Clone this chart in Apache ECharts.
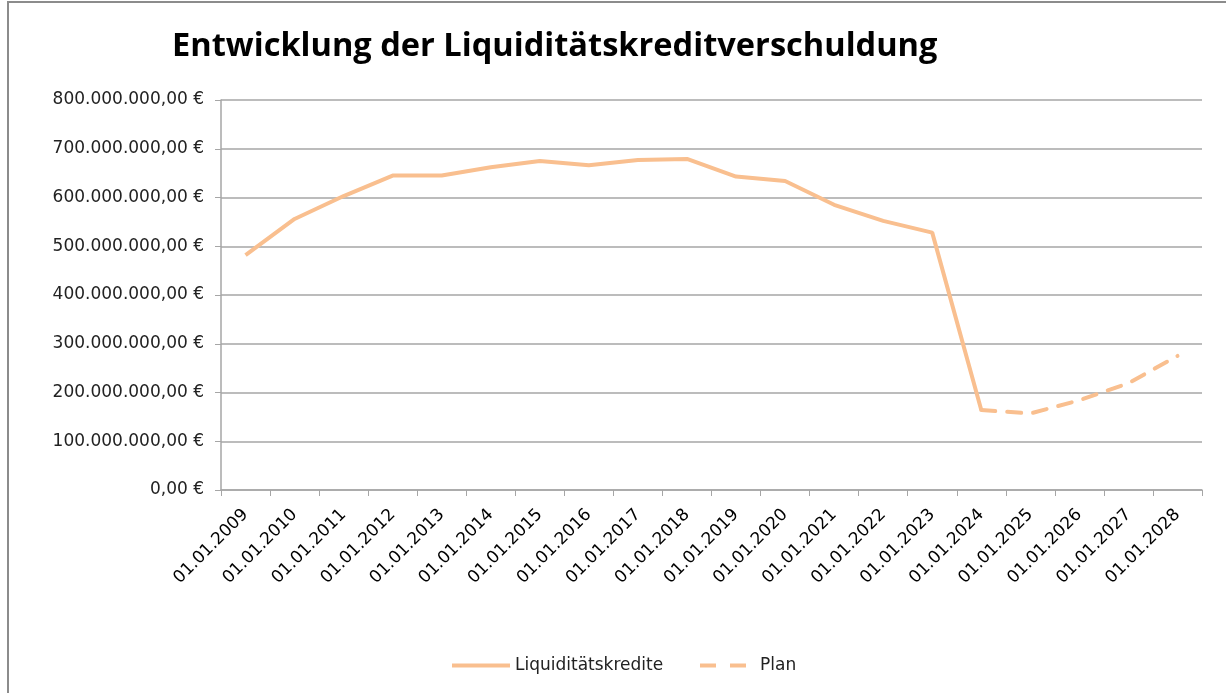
<!DOCTYPE html>
<html><head><meta charset="utf-8">
<script src="https://cdn.jsdelivr.net/npm/echarts@6/dist/echarts.min.js"></script>
<style>
html,body{margin:0;padding:0;background:#fff;}
#frame{position:absolute;left:7px;top:1px;width:1219px;height:692px;border-left:2px solid #8c8c8c;border-top:2px solid #8c8c8c;box-sizing:border-box;}
#chart{position:absolute;left:0;top:0;width:1226px;height:693px;}
</style></head>
<body>
<div id="frame"></div>
<div id="chart"></div>
<script>
const categories = ['01.01.2009','01.01.2010','01.01.2011','01.01.2012','01.01.2013','01.01.2014','01.01.2015','01.01.2016','01.01.2017','01.01.2018','01.01.2019','01.01.2020','01.01.2021','01.01.2022','01.01.2023','01.01.2024','01.01.2025','01.01.2026','01.01.2027','01.01.2028'];
const kredite = [482e6,556e6,603e6,645e6,645e6,662e6,675e6,666e6,677e6,679e6,643e6,634e6,585e6,552e6,528e6,164e6,null,null,null,null];
const plan = [null,null,null,null,null,null,null,null,null,null,null,null,null,null,null,164e6,157e6,184e6,219e6,275e6];
const yTicks = {min:0, max:800e6, interval:100e6};

function fmtEuro(v){
  const s = Math.round(v).toString().replace(/\B(?=(\d{3})+(?!\d))/g,'.');
  return s + ',00 €';
}
const FONT = 'DejaVu Sans';
const COLOR = '#F9BF8F';
const chart = echarts.init(document.getElementById('chart'));
chart.setOption({
  backgroundColor: 'transparent',
  animation: false,
  title: {
    text: 'Entwicklung der Liquiditätskreditverschuldung',
    left: 167, top: 25,
    textStyle: {fontFamily: 'Open Sans', fontWeight: 'bold', fontSize: 32.6, color: '#000'}
  },
  legend: [
    {
      left: 447, top: 652,
      itemWidth: 58, itemHeight: 4,
      textStyle: {fontFamily: FONT, fontSize: 17, color: '#222'},
      data: [{name: 'Liquiditätskredite', icon: 'path://M0,0H58V4H0Z'}]
    },
    {
      left: 695, top: 652,
      itemWidth: 46, itemHeight: 4,
      textStyle: {fontFamily: FONT, fontSize: 17, color: '#222', padding: [0,0,0,9]},
      data: [{name: 'Plan', icon: 'path://M0,0H16V4H0Z M30,0H46V4H30Z'}]
    }
  ],
  grid: {left: 221, right: 24, top: 100, bottom: 203, containLabel: false},
  xAxis: {
    type: 'category', data: categories, boundaryGap: true,
    axisLine: {lineStyle: {color: '#a6a6a6', width: 1.5}},
    axisTick: {show: true, length: 6, lineStyle: {color: '#a6a6a6'}},
    axisLabel: {rotate: 45, fontFamily: FONT, fontSize: 17, color: '#000', margin: 22, interval: 0}
  },
  yAxis: {
    type: 'value', min: yTicks.min, max: yTicks.max, interval: yTicks.interval,
    axisLine: {show: true, lineStyle: {color: '#a6a6a6', width: 1.5}},
    axisTick: {show: true, length: 6, inside: false, lineStyle: {color: '#a6a6a6'}},
    splitLine: {lineStyle: {color: '#a6a6a6', width: 1.5}},
    axisLabel: {fontFamily: FONT, fontSize: 17, color: '#222', margin: 17, formatter: fmtEuro}
  },
  series: [
    {name: 'Liquiditätskredite', type: 'line', data: kredite, showSymbol: false, symbol: 'none',
     lineStyle: {color: COLOR, width: 4}, itemStyle: {color: COLOR}},
    {name: 'Plan', type: 'line', data: plan, showSymbol: false, symbol: 'none',
     lineStyle: {color: COLOR, width: 4, type: [14, 12], cap: 'round'}, itemStyle: {color: COLOR}}
  ]
});
</script>
</body></html>
